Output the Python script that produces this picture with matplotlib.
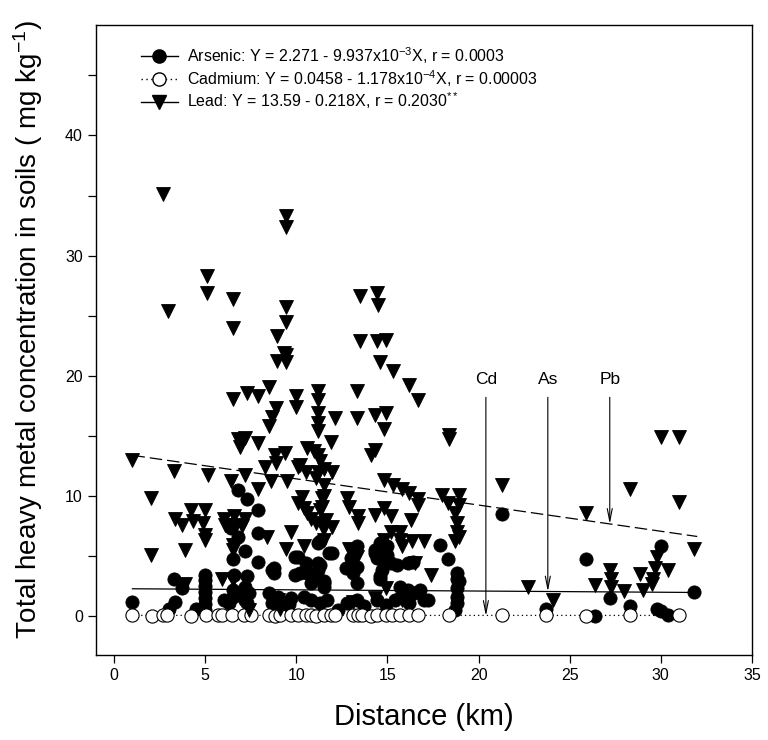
import matplotlib
matplotlib.use("Agg")
import matplotlib.pyplot as plt
from matplotlib.lines import Line2D
from matplotlib.ticker import MultipleLocator
import numpy as np

plt.rcParams['font.family'] = ['Liberation Sans', 'DejaVu Sans']
plt.rcParams['mathtext.fontset'] = 'custom'
plt.rcParams['mathtext.rm'] = 'Liberation Sans'
plt.rcParams['mathtext.it'] = 'Liberation Sans:italic'
plt.rcParams['mathtext.bf'] = 'Liberation Sans:bold'

# ---------------- data ----------------
lead_x = [2.7, 5.1, 5.1, 2.95, 6.5, 6.5, 9.43, 9.43, 9.43, 9.43, 8.94, 9.3, 9.45, 8.94, 9.43,
          8.5, 7.3, 7.9, 6.5, 8.9, 8.65, 8.5, 6.8, 7.2, 6.9, 7.9, 8.85, 9.4, 8.3, 8.9,
          0.97, 3.3, 5.15, 7.2, 6.4, 8.6, 9.5, 7.9, 2.0, 4.2, 5.0, 3.35, 3.7, 4.35, 4.9,
          6.0, 6.55, 7.2, 6.1, 6.7, 7.0, 5.0, 5.0, 6.5, 6.5, 8.4, 9.7, 2.0, 3.9, 9.43,
          5.9, 6.5, 3.9, 9.0, 9.1, 10.0, 10.0, 11.2, 11.2, 11.2, 11.2, 11.2, 10.6, 10.95,
          11.2, 11.3, 11.2, 11.1, 10.1, 10.5, 11.5, 10.2, 10.3, 10.1, 10.4, 10.6, 10.8,
          11.1, 11.4, 11.6, 11.4, 11.3, 11.5, 10.4, 13.5, 14.4, 14.5, 13.5, 14.4, 14.9,
          14.6, 15.3, 16.2, 16.7, 13.3, 12.1, 13.3, 14.3, 14.9, 14.8, 11.9, 14.3, 14.1,
          18.4, 18.4, 11.95, 14.8, 15.3, 15.8, 16.2, 16.7, 16.7, 12.8, 12.9, 11.5, 11.4,
          14.8, 15.2, 14.3, 13.4, 13.4, 16.3, 11.95, 11.5, 15.2, 15.7, 15.7, 15.8, 16.35,
          17.0, 14.8, 11.5, 12.9, 13.3, 16.5, 17.4, 14.9, 15.8, 18.0, 18.3, 18.9, 18.9,
          18.7, 18.8, 18.8, 18.7, 18.9, 21.3, 28.3, 30.0, 31.0, 31.0, 31.8, 25.9, 22.7,
          24.1, 26.4, 27.2, 27.25, 27.25, 28.0, 28.85, 29.0, 29.5, 29.6, 29.7, 29.8, 30.4,
          14.3, 13.1, 6.9, 7.4]
lead_y = [35.1, 28.3, 26.9, 25.4, 26.4, 24.0, 33.3, 32.4, 25.7, 24.5, 23.3, 21.9, 21.75, 21.2, 21.1,
          19.1, 18.6, 18.3, 18.1, 17.3, 16.6, 15.8, 14.7, 14.8, 14.1, 14.4, 13.4, 13.6, 12.4, 12.7,
          13.0, 12.1, 11.75, 11.75, 11.2, 11.2, 11.2, 10.6, 9.8, 8.8, 8.8, 8.05, 7.6, 7.9, 7.7,
          8.1, 8.3, 8.1, 7.6, 7.6, 7.5, 6.75, 6.3, 5.9, 5.5, 6.6, 7.0, 5.1, 5.5, 5.6,
          3.1, 3.0, 2.7, 1.3, 0.6, 18.3, 17.4, 18.7, 18.0, 16.9, 16.1, 15.4, 14.0, 13.7,
          13.4, 12.9, 12.0, 11.5, 12.4, 12.0, 12.2, 12.6, 9.9, 9.4, 9.0, 8.6, 8.1,
          7.75, 7.5, 8.0, 9.8, 8.8, 10.9, 5.8, 26.6, 26.9, 25.9, 22.9, 22.9, 23.0,
          21.1, 20.4, 19.2, 18.0, 18.7, 16.5, 16.5, 16.75, 16.9, 15.6, 14.5, 13.8, 13.4,
          15.1, 14.7, 12.0, 11.3, 10.9, 10.6, 10.2, 9.7, 9.25, 9.8, 9.1, 9.95, 9.1,
          9.0, 8.3, 8.4, 8.3, 7.75, 8.0, 7.4, 7.3, 7.0, 7.0, 6.3, 5.8, 6.2,
          6.2, 6.3, 6.3, 5.6, 4.9, 4.4, 3.4, 2.3, 1.3, 10.1, 9.4, 10.1, 9.25,
          8.55, 7.7, 7.0, 6.2, 6.6, 10.9, 10.6, 14.9, 14.9, 9.5, 5.6, 8.6, 2.4,
          1.3, 2.6, 3.8, 3.1, 2.4, 2.1, 3.5, 2.2, 2.7, 3.1, 4.0, 4.9, 3.8,
          1.5, 1.2, 1.5, 0.5]

arsenic_x = [0.97, 3.3, 3.7, 3.35, 3.0, 4.5, 5.0, 5.0, 5.0, 5.0, 5.0, 5.0, 5.0, 6.8, 7.3, 7.9,
             6.4, 6.8, 7.9, 7.2, 6.5, 7.9, 8.75, 8.75, 9.9, 9.9, 8.65, 6.55, 7.3, 7.2, 7.4,
             7.3, 6.0, 6.3, 6.5, 6.5, 8.5, 9.0, 9.7, 8.65, 9.3, 9.6, 10.1, 10.5, 10.2, 10.8,
             10.6, 11.2, 11.2, 11.5, 11.95, 11.2, 11.3, 11.8, 11.3, 11.1, 11.5, 10.4, 10.8,
             11.3, 11.7, 11.5, 13.3, 13.0, 12.7, 13.1, 13.3, 13.3, 12.8, 13.3, 13.7, 14.3,
             14.6, 15.0, 14.3, 14.4, 15.0, 15.2, 14.8, 14.7, 14.6, 14.6, 15.5, 16.1, 16.4,
             15.7, 16.1, 16.45, 16.8, 17.0, 14.4, 14.9, 15.4, 16.2, 16.7, 17.2, 17.9, 18.3,
             18.8, 18.8, 18.9, 18.8, 18.8, 18.8, 18.7, 21.3, 25.9, 30.0, 31.8, 27.2, 28.3,
             29.8, 30.0, 30.4, 26.4, 23.7, 9.0, 12.3]
arsenic_y = [1.2, 3.1, 2.3, 1.2, 0.6, 0.6, 3.4, 3.0, 2.5, 2.0, 1.5, 1.0, 0.5, 10.5, 9.7, 8.8,
             7.3, 6.6, 6.9, 5.4, 4.7, 4.5, 4.0, 3.6, 4.9, 3.4, 3.8, 3.4, 3.3, 2.4, 1.9,
             1.05, 1.3, 1.05, 2.2, 1.6, 1.9, 1.6, 1.5, 1.05, 0.6, 1.0, 4.9, 4.4, 3.6, 2.75,
             3.6, 4.4, 3.8, 2.75, 5.2, 6.05, 6.2, 5.2, 4.25, 3.3, 2.9, 1.6, 1.3,
             1.05, 1.3, 2.4, 5.8, 4.8, 4.0, 3.6, 2.75, 4.1, 1.05, 1.3, 0.8, 5.2,
             6.05, 5.8, 5.5, 4.8, 5.1, 4.4, 4.5, 3.8, 3.3, 3.1, 4.25, 4.4, 4.5,
             2.4, 2.2, 1.9, 2.2, 1.3, 1.3, 0.9, 1.3, 1.05, 2.0, 1.3, 5.9, 4.7,
             3.6, 3.1, 2.9, 2.3, 1.6, 1.05, 0.5, 8.5, 4.7, 5.8, 2.0, 1.5, 0.8,
             0.6, 0.4, 0.1, 0.0, 0.6, 0.3, 0.5]

cadmium_x = [0.97, 2.07, 2.7, 2.9, 4.2, 5.05, 5.7, 5.9, 6.45, 7.1, 7.5, 8.5, 8.85, 9.1, 9.7,
             10.1, 10.5, 10.8, 11.1, 11.5, 11.9, 12.1, 13.1, 13.4, 13.6, 14.1, 14.4, 14.9,
             15.25, 15.7, 16.2, 16.7, 18.4, 21.3, 23.7, 25.9, 28.3, 31.0]
cadmium_y = [0.04, 0.03, 0.05, 0.04, 0.03, 0.06, 0.05, 0.04, 0.05, 0.04, 0.06, 0.05, 0.03, 0.04, 0.05,
             0.06, 0.04, 0.05, 0.03, 0.05, 0.04, 0.06, 0.05, 0.04, 0.05, 0.03, 0.06, 0.05,
             0.04, 0.05, 0.04, 0.05, 0.06, 0.04, 0.05, 0.03, 0.04, 0.05]

# regression coefficients (intercept, slope) and fitted range
as_fit = (2.271, -9.937e-3)
cd_fit = (0.0458, -1.178e-4)
pb_fit = (13.59, -0.218)
fit_range = (1.0, 32.0)
cd_range = (1.0, 31.0)

arrow_labels = ['Cd', 'As', 'Pb']
arrow_x = [20.4, 23.8, 27.2]

legend_labels = [r'Arsenic: Y = 2.271 - 9.937x10$^{-3}$X, r = 0.0003',
                 r'Cadmium: Y = 0.0458 - 1.178x10$^{-4}$X, r = 0.00003',
                 r'Lead: Y = 13.59 - 0.218X, r = 0.2030$^{**}$']

x_ticks = [0, 5, 10, 15, 20, 25, 30, 35]
y_ticks = [0, 10, 20, 30, 40]

# ---------------- figure ----------------
fig = plt.figure(figsize=(7.68, 7.40), dpi=100)
ax = fig.add_axes([0.125, 0.1149, 0.854, 0.8514])

ms = 9.5
ax.plot(arsenic_x, arsenic_y, 'o', color='black', markersize=ms, markeredgewidth=0.6, zorder=3)
ax.plot(cadmium_x, cadmium_y, 'o', markerfacecolor='white', markeredgecolor='black',
        markersize=ms, markeredgewidth=0.8, zorder=4)
ax.plot(lead_x, lead_y, 'v', color='black', markersize=ms, markeredgewidth=0.6, zorder=5)

xs = np.array(fit_range)
ax.plot(xs, as_fit[0] + as_fit[1] * xs, '-', color='black', lw=0.9, zorder=6)
ax.plot(xs, pb_fit[0] + pb_fit[1] * xs, color='black', lw=0.9, dashes=(10, 4), zorder=6)
xc = np.array(cd_range)
ax.plot(xc, cd_fit[0] + cd_fit[1] * xc, color='black', lw=0.9, dashes=(1, 2.5), zorder=2)

# arrows
arrow_tips = [0.0,
              as_fit[0] + as_fit[1] * arrow_x[1],
              pb_fit[0] + pb_fit[1] * arrow_x[2]]
for lab, xa, tip in zip(arrow_labels, arrow_x, arrow_tips):
    ax.annotate('', xy=(xa, tip), xytext=(xa, 18.2),
                arrowprops=dict(arrowstyle='->,head_length=0.9,head_width=0.18',
                                color='black', lw=0.8, shrinkA=0, shrinkB=0), zorder=7)
    ax.text(xa, 19.1, lab, ha='center', va='bottom', fontsize=12.5)

ax.set_xlim(-1, 35)
ax.set_ylim(-3.25, 49.2)
ax.set_xticks(x_ticks)
ax.set_yticks(y_ticks)
ax.yaxis.set_minor_locator(MultipleLocator(5))
ax.tick_params(which='both', direction='out', length=6, width=0.9, top=False, right=False)
ax.tick_params(which='major', labelsize=11.5)
for s in ax.spines.values():
    s.set_linewidth(1.0)

ax.set_xlabel('Distance (km)', fontsize=21, labelpad=14)
ax.set_ylabel(r'Total heavy metal concentration in soils ( mg kg$^{-1}$)', fontsize=20)
ax.yaxis.set_label_coords(-0.078, 0.516)

handles = [
    Line2D([], [], color='black', lw=1.0, marker='o', markersize=ms, markerfacecolor='black'),
    Line2D([], [], color='black', lw=1.0, dashes=(1, 2.5), marker='o', markersize=ms,
           markerfacecolor='white', markeredgecolor='black'),
    Line2D([], [], color='black', lw=1.0, marker='v', markersize=ms, markerfacecolor='black'),
]
ax.legend(handles, legend_labels, loc='upper left', bbox_to_anchor=(0.059, 0.978),
          frameon=False, fontsize=11.5, handlelength=2.3, handletextpad=0.6,
          labelspacing=0.12, borderaxespad=0)

fig.savefig('out.png', dpi=100)
